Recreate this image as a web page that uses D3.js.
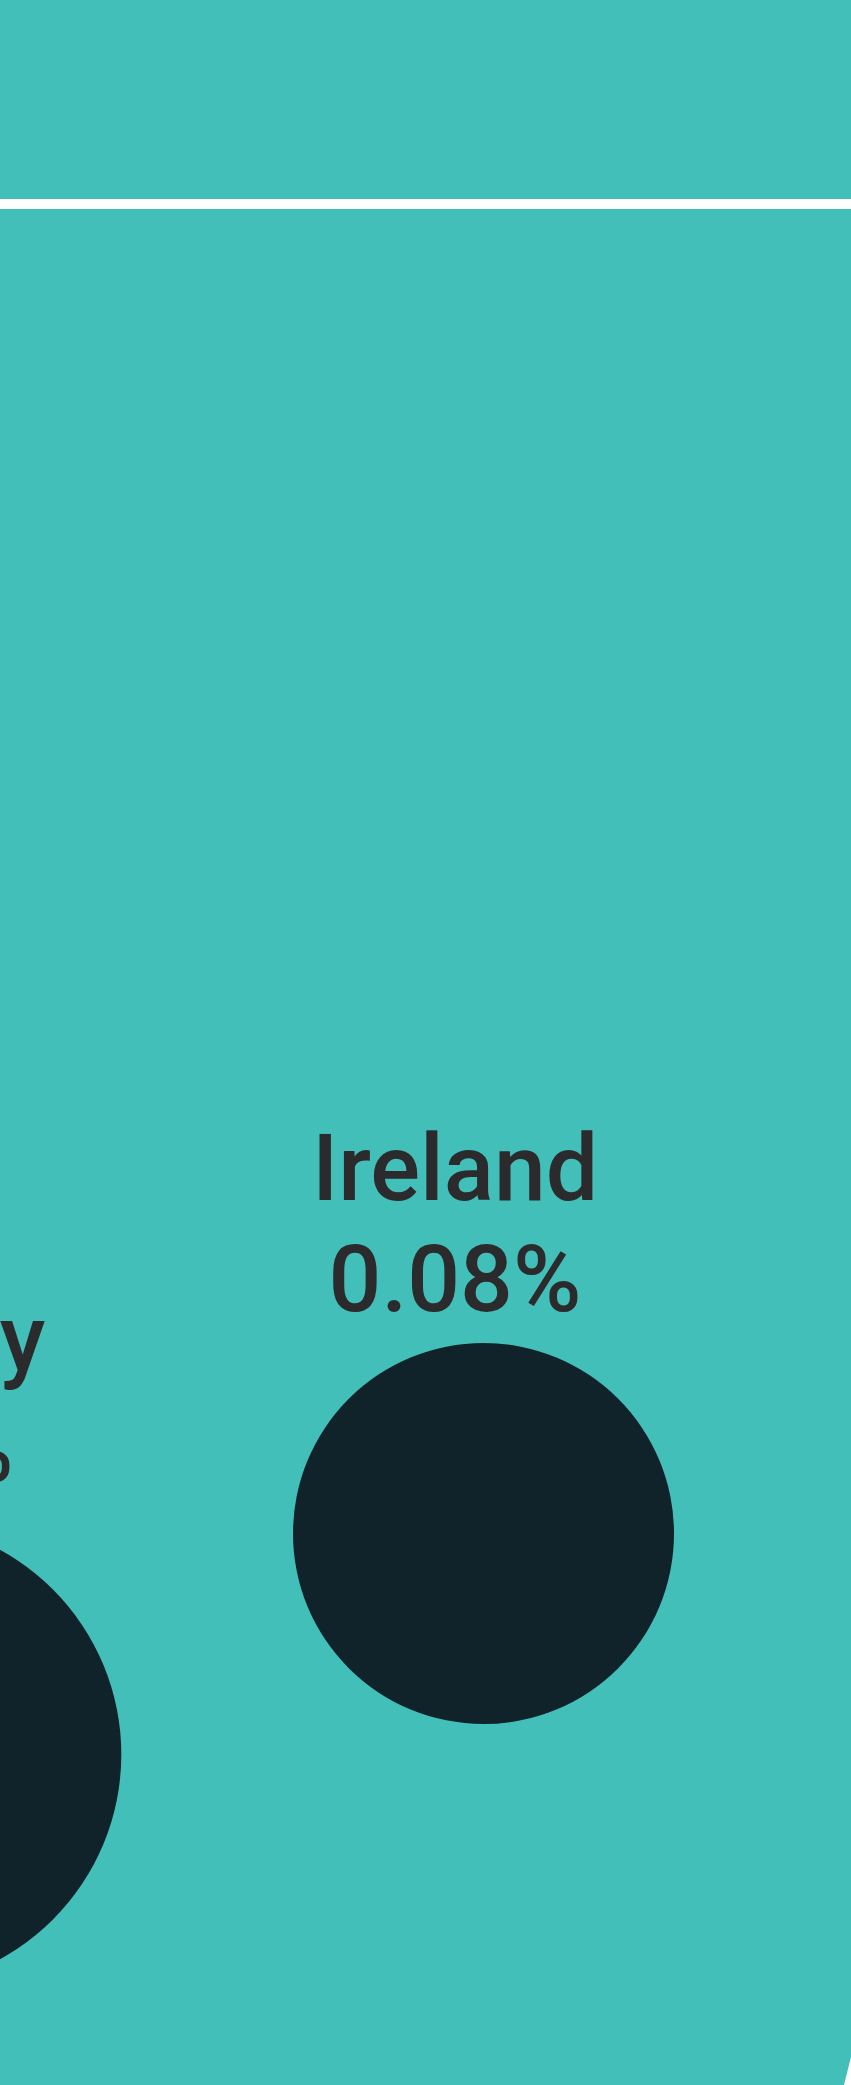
<!DOCTYPE html>
<html>
<head>
<meta charset="utf-8">
<script src="https://cdn.jsdelivr.net/npm/d3@7"></script>
<style>
  html, body { margin: 0; padding: 0; background: #43BFB9; }
  svg { display: block; }
</style>
</head>
<body>
<div id="chart"></div>
<script>
// ---- data ----
const categories = ["Norway", "Ireland"];
const values = [0.12, 0.08];           // share, in percent
const valueLabels = values.map(v => d3.format(".2f")(v) + "%");

// ---- layout ----
const W = 851, H = 2085;
const BG = "#43BFB9", DOT = "#10222A", INK = "#2B2A2C";

const svg = d3.select("#chart").append("svg")
  .attr("width", W).attr("height", H);

svg.append("rect").attr("width", W).attr("height", H).attr("fill", BG);

// top rule
svg.append("rect").attr("x", 0).attr("y", 199).attr("width", W).attr("height", 10).attr("fill", "#fff");

const rScale = d3.scaleSqrt().domain([0, 0.08]).range([0, 190.5]);
const circleX = d3.scalePoint().domain(categories).range([-112, 483.5]);
const textX = d3.scalePoint().domain(categories).range([-113, 455]);
const cyScale = d3.scaleLinear().domain([0.08, 0.12]).range([1533.5, 1754.5]);
const labelY = d3.scaleLinear().domain([0.08, 0.12]).range([1200, 1370]);

const data = categories.map((c, i) => ({ c, v: values[i], lab: valueLabels[i] }));

const g = svg.append("g");

g.selectAll("circle.dot").data(data).join("circle")
  .attr("class", "dot")
  .attr("cx", d => circleX(d.c))
  .attr("cy", d => cyScale(d.v))
  .attr("r", d => rScale(d.v))
  .attr("fill", DOT);

const font = "Roboto, 'Noto Sans', sans-serif";

g.selectAll("text.name").data(data).join("text")
  .attr("class", "name")
  .attr("x", d => textX(d.c))
  .attr("y", d => labelY(d.v))
  .attr("text-anchor", "middle")
  .attr("font-family", font)
  .attr("font-size", 93)
  .attr("font-weight", 500)
  .attr("fill", INK)
  .text(d => d.c);

g.selectAll("text.val").data(data).join("text")
  .attr("class", "val")
  .attr("x", d => textX(d.c))
  .attr("y", d => labelY(d.v) + 111)
  .attr("text-anchor", "middle")
  .attr("font-family", font)
  .attr("font-size", 93)
  .attr("font-weight", 500)
  .attr("fill", INK)
  .text(d => d.lab);

// white decorative wedge entering at bottom-right corner
svg.append("path")
  .attr("d", "M851,2057 L851,2085 L844,2085 Z")
  .attr("fill", "#fff");
</script>
</body>
</html>
